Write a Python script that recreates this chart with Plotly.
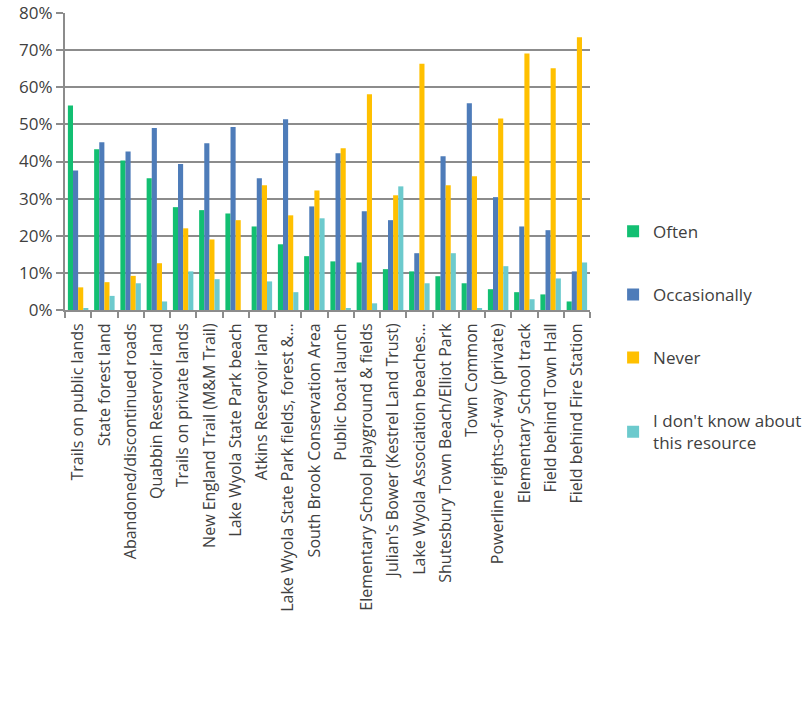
import plotly.graph_objects as go

# Categorias (eje X)
places = [
    "Trails on public lands",
    "State forest land",
    "Abandoned/discontinued roads",
    "Quabbin Reservoir land",
    "Trails on private lands",
    "New England Trail (M&M Trail)",
    "Lake Wyola State Park beach",
    "Atkins Reservoir land",
    "Lake Wyola State Park fields, forest &…",
    "South Brook Conservation Area",
    "Public boat launch",
    "Elementary School playground & fields",
    "Julian's Bower (Kestrel Land Trust)",
    "Lake Wyola Association beaches…",
    "Shutesbury Town Beach/Elliot Park",
    "Town Common",
    "Powerline rights-of-way (private)",
    "Elementary School track",
    "Field behind Town Hall",
    "Field behind Fire Station",
]

# Valores en %
often = [55.1, 43.3, 40.3, 35.5, 27.7, 26.9, 26.0, 22.5, 17.7, 14.5,
         13.1, 12.8, 11.0, 10.4, 9.1, 7.2, 5.6, 4.8, 4.2, 2.3]
occasionally = [37.6, 45.2, 42.7, 49.0, 39.3, 44.9, 49.3, 35.5, 51.4, 27.9,
                42.2, 26.6, 24.2, 15.3, 41.4, 55.7, 30.4, 22.5, 21.5, 10.4]
never = [6.1, 7.5, 9.2, 12.6, 22.0, 19.0, 24.2, 33.6, 25.5, 32.2,
         43.6, 58.1, 30.9, 66.3, 33.6, 36.0, 51.6, 69.1, 65.1, 73.5]
dont_know = [0.4, 3.8, 7.2, 2.3, 10.4, 8.3, 0.0, 7.7, 4.8, 24.7,
             0.4, 1.8, 33.3, 7.2, 15.3, 0.4, 11.8, 2.9, 8.5, 12.8]

series = [
    ("Often", often, "#12BF72"),
    ("Occasionally", occasionally, "#4E7CB9"),
    ("Never", never, "#FFC000"),
    ("I don't know about<br>this resource", dont_know, "#6CCACD"),
]

fig = go.Figure()
for i, (name, vals, color) in enumerate(series):
    fig.add_trace(go.Bar(x=places, y=vals, name=name, marker_color=color,
                         marker_line_width=0, legendgroup=str(i)))

grid = "#8C8C8C"
fig.update_layout(
    width=807, height=708,
    margin=dict(l=65, r=217, t=13, b=398, autoexpand=False),
    plot_bgcolor="white", paper_bgcolor="white",
    barmode="group", bargap=0.22, bargroupgap=0,
    font=dict(family="Open Sans, sans-serif", color="#404040"),
    legend=dict(x=1.044, y=0.324, xanchor="left", yanchor="top",
                font=dict(size=17, color="#404040"),
                tracegroupgap=38, itemwidth=30),
    showlegend=True,
)

fig.update_xaxes(
    tickangle=-90, tickfont=dict(size=16, color="#404040"),
    showline=True, linecolor=grid, linewidth=2,
    ticks="outside", tickson="boundaries", ticklen=6, tickcolor=grid, tickwidth=2,
    ticklabelstandoff=5, automargin=False,
)
fig.update_yaxes(
    range=[0, 80], dtick=10, ticksuffix="%",
    tickfont=dict(size=17, color="#404040"),
    showgrid=True, gridcolor=grid, gridwidth=2,
    showline=True, linecolor=grid, linewidth=2,
    ticks="outside", ticklen=7, tickcolor=grid, tickwidth=2,
    zeroline=False, automargin=False,
)

# quitar el margen por defecto del body
fig.write_html("out.html", config={"displayModeBar": False},
               post_script="document.body.style.margin='0';")
